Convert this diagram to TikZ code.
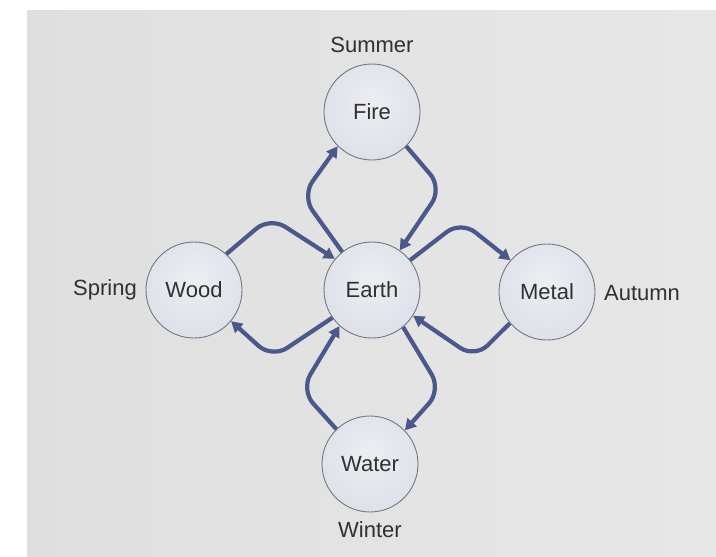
\documentclass[tikz,border=0pt]{standalone}
\usepackage{fontspec}
\setmainfont{Liberation Sans}
\usetikzlibrary{arrows.meta}
\definecolor{bgA}{RGB}{204,201,204}
\definecolor{bgA2}{RGB}{210,208,210}
\definecolor{bgB}{RGB}{222,222,222}
\definecolor{bgC}{RGB}{235,235,235}
\definecolor{ringc}{RGB}{112,120,136}
\definecolor{sphA}{RGB}{236,238,242}
\definecolor{sphB}{RGB}{222,225,232}
\definecolor{sphC}{RGB}{192,199,212}
\definecolor{sphD}{RGB}{166,175,192}
\definecolor{arrc}{RGB}{74,88,138}
\definecolor{txtc}{RGB}{48,48,50}
\pgfdeclarehorizontalshading{bgshade}{100bp}{color(0bp)=(bgA); color(12bp)=(bgA2); color(18bp)=(bgB); color(100bp)=(bgC)}
\pgfdeclareradialshading{sphere}{\pgfpoint{0bp}{6bp}}{color(0bp)=(sphA); color(28bp)=(sphB); color(44bp)=(sphC); color(52bp)=(sphD); color(70bp)=(sphD)}
\begin{document}
\begin{tikzpicture}[x=1pt,y=-1pt,
  elem/.style={circle, minimum size=96pt, inner sep=0pt, draw=ringc, line width=0.9pt,
    shading=sphere, font=\fontsize{22}{26}\selectfont, text=txtc},
  lbl/.style={font=\fontsize{22}{26}\selectfont, text=txtc, inner sep=0pt},
  flow/.style={draw=arrc, line width=4.2pt, rounded corners=18pt, line join=round,
    -{Triangle[length=11pt,width=12pt]}}]
\useasboundingbox (0,0) rectangle (716,557);
\fill[white] (0,0) rectangle (716,557);
\shade[shading=bgshade] (27,10) rectangle (716,557);
% elements
\node[elem] (fire)  at (372,112) {Fire};
\node[elem] (earth) at (372,290) {Earth};
\node[elem] (wood)  at (194,290) {Wood};
\node[elem] (metal) at (547,292) {Metal};
\node[elem] (water) at (370,464) {Water};
% seasons
\node[lbl] (summer) at (372,45) {Summer};
\node[lbl] (spring) at (105,290) {Spring};
\node[lbl] (autumn) at (642,293) {Autumn};
\node[lbl] (winter) at (370,530) {Winter};
% bend points
\coordinate (m1) at (302,196);
\coordinate (m2) at (442,188);
\coordinate (m3) at (270,217);
\coordinate (m4) at (461,221);
\coordinate (m5) at (475,358);
\coordinate (m6) at (272,358);
\coordinate (m7) at (301,390);
\coordinate (m8) at (441,390);
% flows
\draw[flow] (earth.128) -- (m1) -- (fire.225);
\draw[flow] (fire.-45) -- (m2) -- (earth.55);
\draw[flow] (wood.48) -- (m3) -- (earth.140);
\draw[flow] (earth.38) -- (m4) -- (metal.139);
\draw[flow] (metal.-140) -- (m5) -- (earth.-32);
\draw[flow] (earth.-145) -- (m6) -- (wood.-40);
\draw[flow] (water.134) -- (m7) -- (earth.-132);
\draw[flow] (earth.-50) -- (m8) -- (water.44);
\end{tikzpicture}
\end{document}
